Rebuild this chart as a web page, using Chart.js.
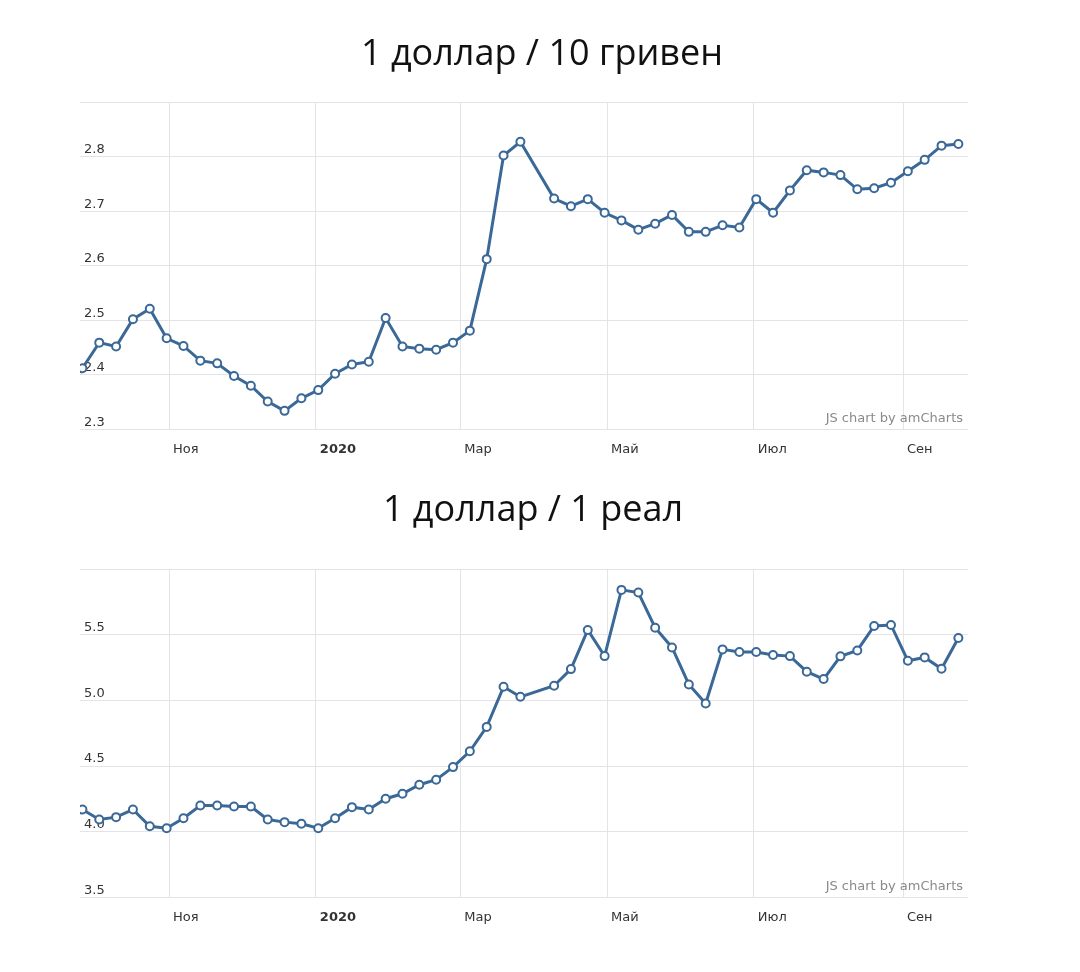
<!DOCTYPE html>
<html>
<head>
<meta charset="utf-8">
<script src="https://cdn.jsdelivr.net/npm/chart.js@4"></script>
<style>
  body { margin: 0; background: #fff; }
  .box { position: absolute; left: 0; width: 1080px; height: 470px; }
</style>
</head>
<body>
<div class="box" style="top:0"><canvas id="uahChart"></canvas></div>
<div class="box" style="top:470px"><canvas id="brlChart"></canvas></div>
<script>
// weekly observation dates (one week in early April is missing in the source)
const weekDates = [
  '2019-09-26', '2019-10-03', '2019-10-10', '2019-10-17', '2019-10-24', '2019-10-31',
  '2019-11-07', '2019-11-14', '2019-11-21', '2019-11-28', '2019-12-05', '2019-12-12',
  '2019-12-19', '2019-12-26', '2020-01-02', '2020-01-09', '2020-01-16', '2020-01-23',
  '2020-01-30', '2020-02-06', '2020-02-13', '2020-02-20', '2020-02-27', '2020-03-05',
  '2020-03-12', '2020-03-19', '2020-03-26', '2020-04-09', '2020-04-16', '2020-04-23',
  '2020-04-30', '2020-05-07', '2020-05-14', '2020-05-21', '2020-05-28', '2020-06-04',
  '2020-06-11', '2020-06-18', '2020-06-25', '2020-07-02', '2020-07-09', '2020-07-16',
  '2020-07-23', '2020-07-30', '2020-08-06', '2020-08-13', '2020-08-20', '2020-08-27',
  '2020-09-03', '2020-09-10', '2020-09-17', '2020-09-24'
];

// 1 dollar / 10 hryvnias
const uahValues = [
  2.412, 2.459, 2.452, 2.502, 2.521, 2.467, 2.453, 2.426, 2.421, 2.398, 2.380, 2.351,
  2.334, 2.357, 2.372, 2.402, 2.419, 2.424, 2.504, 2.452, 2.448, 2.446, 2.459, 2.481,
  2.612, 2.802, 2.827, 2.723, 2.709, 2.722, 2.697, 2.683, 2.666, 2.677, 2.693, 2.662,
  2.662, 2.674, 2.670, 2.722, 2.697, 2.738, 2.775, 2.771, 2.766, 2.740, 2.742, 2.752,
  2.773, 2.794, 2.820, 2.823
];

// 1 dollar / 1 real
const brlValues = [
  4.169, 4.093, 4.111, 4.169, 4.041, 4.027, 4.103, 4.200, 4.200, 4.192, 4.192, 4.093,
  4.073, 4.060, 4.027, 4.103, 4.187, 4.169, 4.251, 4.289, 4.358, 4.396, 4.492, 4.612,
  4.798, 5.103, 5.027, 5.111, 5.238, 5.536, 5.337, 5.841, 5.821, 5.553, 5.403, 5.121,
  4.976, 5.388, 5.368, 5.368, 5.345, 5.337, 5.218, 5.162, 5.335, 5.380, 5.566, 5.574,
  5.302, 5.327, 5.240, 5.475
];

const monthTickDates = ['2019-11-01', '2020-01-01', '2020-03-01', '2020-05-01', '2020-07-01', '2020-09-01'];
const monthLabels = ['Ноя', '2020', 'Мар', 'Май', 'Июл', 'Сен'];
const axisStart = '2019-09-25';
const axisEnd = '2020-09-28';

const DAY = 86400000;
const toDay = s => (Date.parse(s) - Date.parse(axisStart)) / DAY;

const LINE_COLOR = '#3a6897';
const GRID_COLOR = '#e4e4e8';
const TICK_FONT = 'DejaVu Sans, Verdana, sans-serif';

// big centred heading above each plot
const headingPlugin = {
  id: 'heading',
  afterDraw(chart, args, opts) {
    const { ctx } = chart;
    ctx.save();
    ctx.font = '36px "Open Sans", sans-serif';
    ctx.fillStyle = '#111';
    ctx.textAlign = 'center';
    ctx.textBaseline = 'alphabetic';
    ctx.fillText(opts.text, opts.x, opts.y);
    ctx.restore();
  }
};

// amCharts credit in the plot corner
const creditPlugin = {
  id: 'credit',
  afterDraw(chart) {
    const { ctx, chartArea } = chart;
    ctx.save();
    ctx.font = '13px ' + TICK_FONT;
    ctx.fillStyle = '#8a8a8a';
    ctx.textAlign = 'right';
    ctx.textBaseline = 'alphabetic';
    ctx.fillText('JS chart by amCharts', chartArea.right - 5, chartArea.bottom - 7);
    ctx.restore();
  }
};

function makeChart(id, title, values, yMin, yMax, step, pad, heading) {
  const ctx = document.getElementById(id).getContext('2d');
  return new Chart(ctx, {
    type: 'line',
    data: {
      datasets: [{
        data: weekDates.map((d, i) => ({ x: toDay(d), y: values[i] })),
        borderColor: LINE_COLOR,
        borderWidth: 3,
        pointRadius: 4,
        pointBorderWidth: 2,
        pointBackgroundColor: '#fff',
        pointBorderColor: LINE_COLOR,
        tension: 0
      }]
    },
    options: {
      responsive: false,
      animation: false,
      layout: { padding: pad },
      plugins: {
        legend: { display: false },
        tooltip: { enabled: false },
        title: { display: false },
        heading: { text: title, x: heading.x, y: heading.y }
      },
      scales: {
        x: {
          type: 'linear',
          min: toDay(axisStart),
          max: toDay(axisEnd),
          afterBuildTicks: scale => {
            scale.ticks = monthTickDates.map(d => ({ value: toDay(d) }));
          },
          border: { display: false },
          grid: { color: GRID_COLOR, drawTicks: false },
          ticks: {
            align: 'start',
            labelOffset: 4,
            padding: 12,
            maxRotation: 0,
            autoSkip: false,
            color: '#333',
            font: c => ({ family: TICK_FONT, size: 13, weight: c.index === 1 ? 'bold' : 'normal' }),
            callback: (v, i) => monthLabels[i]
          }
        },
        y: {
          min: yMin,
          max: yMax,
          border: { display: false },
          grid: { color: GRID_COLOR, drawTicks: false },
          ticks: {
            stepSize: step,
            mirror: true,
            padding: 4,
            labelOffset: -7,
            color: '#333',
            font: { family: TICK_FONT, size: 13 },
            callback: v => (Math.abs(v - yMax) < 1e-6 ? '' : v.toFixed(1))
          }
        }
      }
    },
    plugins: [headingPlugin, creditPlugin]
  });
}

function sizeCanvas(id) {
  const c = document.getElementById(id);
  c.width = 1080;
  c.height = 470;
}
sizeCanvas('uahChart');
sizeCanvas('brlChart');

makeChart('uahChart', '1 доллар / 10 гривен', uahValues, 2.3, 2.9, 0.1,
  { left: 72, right: 112, top: 102, bottom: 1 }, { x: 542, y: 65 });
makeChart('brlChart', '1 доллар / 1 реал', brlValues, 3.5, 6.0, 0.5,
  { left: 72, right: 112, top: 99, bottom: 3 }, { x: 533, y: 51 });
</script>
</body>
</html>
